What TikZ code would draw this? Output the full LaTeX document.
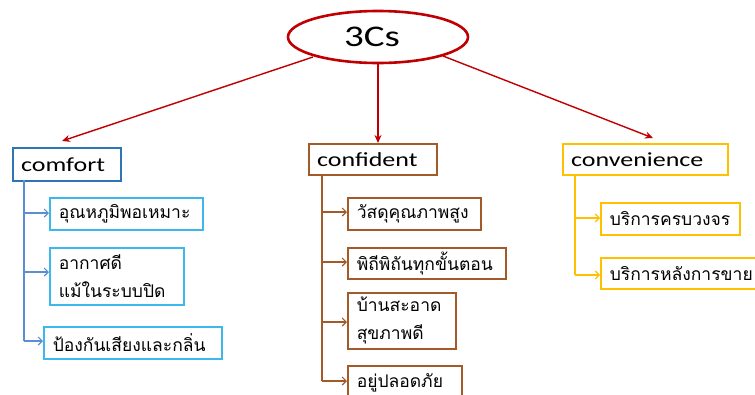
\documentclass[tikz,border=0pt]{standalone}
\usepackage{fontspec}
\setmainfont{Carlito}
\newfontfamily\latinw[FakeStretch=1.3]{Carlito}
\newfontfamily\thaifont[Script=Thai]{Loma}
\usetikzlibrary{arrows.meta,shapes.geometric}
\definecolor{cred}{HTML}{C00000}
\definecolor{cblue}{HTML}{2E75B6}
\definecolor{clblue}{HTML}{3DB8EC}
\definecolor{cbline}{HTML}{5B8FD0}
\definecolor{cbrown}{HTML}{A25A28}
\definecolor{cgold}{HTML}{FFC000}
\tikzset{
  x=1pt, y=-1pt,
  redarrow/.style={draw=cred, line width=1.4pt, -{Stealth[length=8pt,width=7pt]}},
  headbox/.style={anchor=north west, line width=2.2pt, inner sep=0pt, font=\latinw\fontsize{20}{24}\selectfont, align=left},
  subbox/.style={anchor=north west, line width=1.5pt, inner xsep=9pt, inner ysep=0pt, font=\thaifont\fontsize{17.5}{28}\selectfont, align=left, fill=white},
  subarrow/.style={line width=1.1pt, -{Straight Barb[length=4pt,width=8pt]}},
}
\begin{document}
\begin{tikzpicture}
\useasboundingbox (0,0) rectangle (755,394);
% top
\node[ellipse, draw=cred, line width=2.6pt, minimum width=180pt, minimum height=52pt, inner sep=0pt, font=\latinw\fontsize{30}{36}\selectfont] (top) at (378,37) {3Cs\hspace*{12pt}};

% heads
\node[headbox, draw=cblue, minimum width=108pt, minimum height=33pt, text width=92pt, inner xsep=8pt] (comfort) at (12,147) {comfort};
\node[headbox, draw=cbrown, minimum width=128pt, minimum height=31pt, text width=112pt, inner xsep=8pt] (confident) at (308,143) {confident};
\node[headbox, draw=cgold, minimum width=165pt, minimum height=31pt, text width=149pt, inner xsep=8pt] (convenience) at (562,143) {convenience};

% red connectors
\coordinate (tl) at (313,57);
\coordinate (tr) at (443,56);
\draw[redarrow] (tl) -- (62,141);
\draw[redarrow] (top.south) -- (confident.north -| top.south);
\draw[redarrow] (tr) -- (653,138);

% comfort subs
\node[subbox, draw=clblue, minimum width=153pt, minimum height=32pt, text width=135pt] (a1) at (49,197) {อุณหภูมิพอเหมาะ};
\node[subbox, draw=clblue, minimum width=134pt, minimum height=57pt, text width=116pt] (a2) at (49,247) {อากาศดี\\แม้ในระบบปิด};
\node[subbox, draw=clblue, minimum width=178pt, minimum height=32pt, text width=160pt] (a3) at (43,326) {ป้องกันเสียงและกลิ่น};
\coordinate (av) at (24,180);
\draw[cbline, line width=1.1pt] (av) -- (24,341);
\draw[cbline, subarrow] (24,213) -- (a1.west |- 0,213);
\draw[cbline, subarrow] (24,272) -- (a2.west |- 0,272);
\draw[cbline, subarrow] (24,341) -- (a3.west |- 0,341);

% confident subs
\node[subbox, draw=cbrown, minimum width=133pt, minimum height=32pt, text width=115pt] (b1) at (347,197) {วัสดุคุณภาพสูง};
\node[subbox, draw=cbrown, minimum width=158pt, minimum height=31pt, text width=140pt] (b2) at (347,247) {พิถีพิถันทุกขั้นตอน};
\node[subbox, draw=cbrown, minimum width=108pt, minimum height=56pt, text width=90pt] (b3) at (347,292) {บ้านสะอาด\\สุขภาพดี};
\node[subbox, draw=cbrown, minimum width=114pt, minimum height=34pt, text width=96pt] (b4) at (347,365) {อยู่ปลอดภัย};
\draw[cbrown, line width=1.1pt] (322,174) -- (322,381);
\draw[cbrown, subarrow] (322,212) -- (b1.west |- 0,212);
\draw[cbrown, subarrow] (322,262) -- (b2.west |- 0,262);
\draw[cbrown, subarrow] (322,322) -- (b3.west |- 0,322);
\draw[cbrown, subarrow] (322,381) -- (b4.west |- 0,381);

% convenience subs
\node[subbox, draw=cgold, minimum width=139pt, minimum height=32pt, text width=121pt] (c1) at (600,202) {บริการครบวงจร};
\node[subbox, draw=cgold, minimum width=158pt, minimum height=31pt, text width=140pt] (c2) at (600,257) {บริการหลังการขาย};
\draw[cgold, line width=1.1pt] (575,174) -- (575,275);
\draw[cgold, subarrow] (575,218) -- (c1.west |- 0,218);
\draw[cgold, subarrow] (575,275) -- (c2.west |- 0,275);
\end{tikzpicture}
\end{document}
